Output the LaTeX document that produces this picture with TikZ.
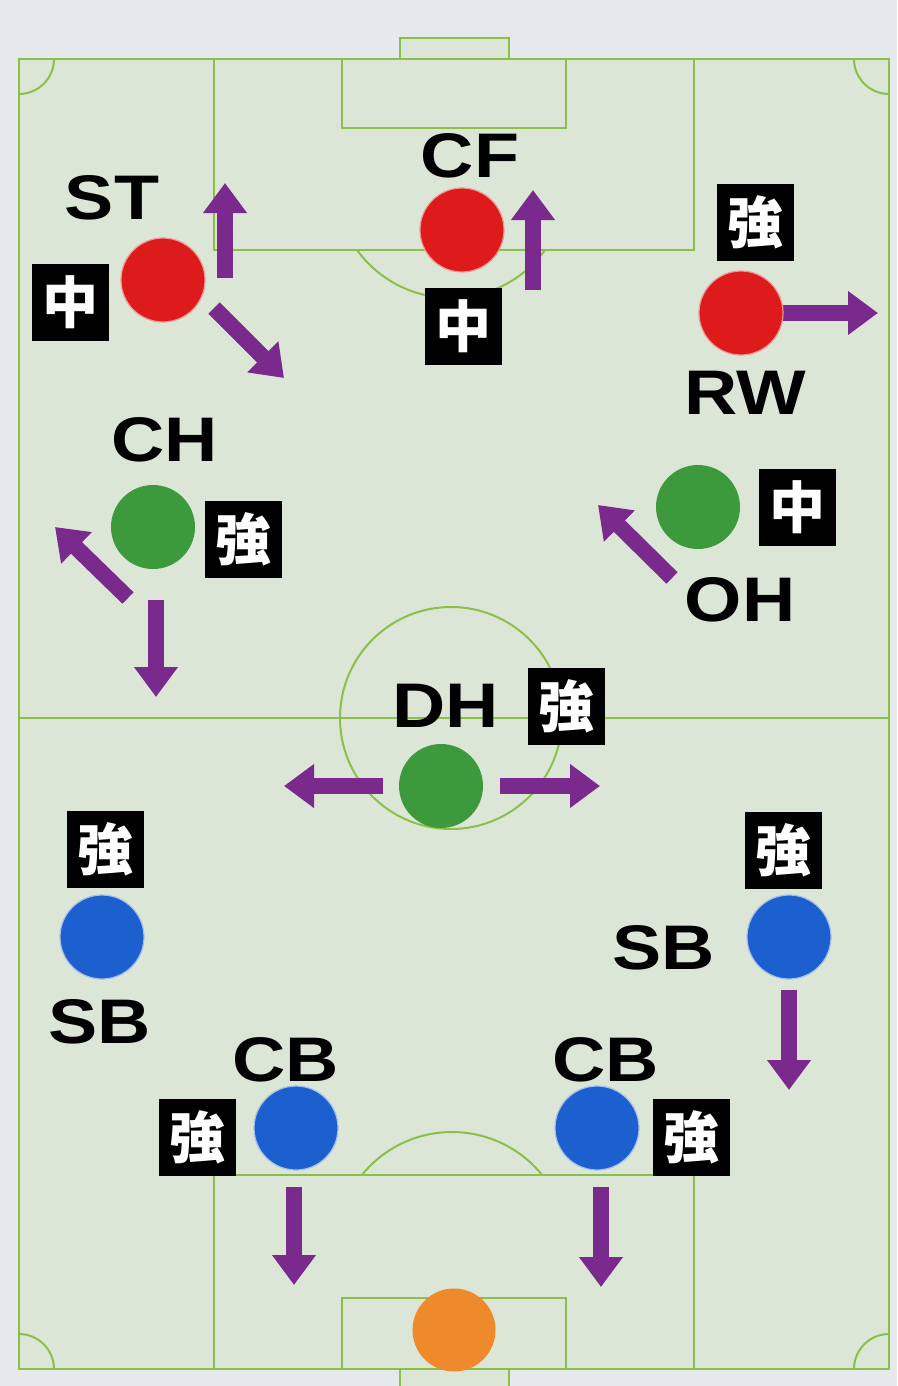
\documentclass[tikz,border=0pt]{standalone}
\usepackage{fontspec}
\usepackage{graphicx}
\setmainfont{Liberation Sans}
\newfontfamily\lblfont{Liberation Sans}
\newfontfamily\cjk{Noto Sans CJK JP}
\usetikzlibrary{arrows.meta}
\definecolor{bg}{HTML}{E4EAEC}
\definecolor{turf}{HTML}{DCE6D6}
\definecolor{pline}{HTML}{8CBF48}
\definecolor{pred}{HTML}{DD1B1B}
\definecolor{pgreen}{HTML}{3C9A3C}
\definecolor{pblue}{HTML}{1C5FCF}
\definecolor{porange}{HTML}{EE8A2C}
\definecolor{ppurple}{HTML}{7A2A8C}
\newcommand\widen[1]{\scalebox{1.17}[1]{#1}}
\begin{document}
\begin{tikzpicture}[x=1pt,y=-1pt,
  fl/.style={draw=pline, line width=2pt},
  player/.style={circle, minimum size=84pt, inner sep=0pt, line width=1.2pt},
  lbl/.style={font=\lblfont\bfseries\fontsize{63}{63}\selectfont, inner sep=0pt, text=black},
  tag/.style={fill=black, text=white, font=\cjk\bfseries\fontsize{56}{56}\selectfont, minimum size=77pt, inner sep=0pt},
  mv/.style={draw=ppurple, line width=16pt, -{Triangle[width=42pt,length=30pt]}}]
\useasboundingbox (0,0) rectangle (897,1386);
\fill[bg] (0,0) rectangle (897,1386);
\fill[turf] (19,59) rectangle (889,1369);
\fill[turf] (400,38) rectangle (509,59);
\fill[turf] (400,1369) rectangle (509,1386);
% field markings
\draw[fl, line width=2.5pt] (19,59) rectangle (889,1369);
\draw[fl] (19,718) -- (889,718);
\draw[fl] (214,59) rectangle (694,250);
\draw[fl] (342,59) rectangle (566,128);
\draw[fl] (400,59) -- (400,38) -- (509,38) -- (509,59);
\draw[fl] (214,1369) rectangle (694,1175);
\draw[fl] (342,1369) rectangle (566,1298);
\draw[fl] (400,1386) -- (400,1369) -- (509,1369) -- (509,1386);
\draw[fl] (451,718) circle[radius=111];
\begin{scope}
  \clip (19,250) rectangle (889,718);
  \draw[fl] (451,182) circle[radius=116];
\end{scope}
\begin{scope}
  \clip (19,718) rectangle (889,1175);
  \draw[fl] (452,1248) circle[radius=116];
\end{scope}
\begin{scope}
  \clip (19,59) rectangle (889,1369);
  \draw[fl] (19,59) circle[radius=35];
  \draw[fl] (889,59) circle[radius=35];
  \draw[fl] (19,1369) circle[radius=35];
  \draw[fl] (889,1369) circle[radius=35];
\end{scope}
% arrow end points
\coordinate (a1s) at (225,278); \coordinate (a1e) at (225,183);
\coordinate (a2s) at (214,308); \coordinate (a2e) at (284,378);
\coordinate (a3s) at (533,290); \coordinate (a3e) at (533,190);
\coordinate (a4s) at (783,313); \coordinate (a4e) at (878,313);
\coordinate (a5s) at (128,598); \coordinate (a5e) at (55,527);
\coordinate (a6s) at (156,600); \coordinate (a6e) at (156,697);
\coordinate (a7s) at (672,578); \coordinate (a7e) at (598,505);
\coordinate (a8s) at (383,786); \coordinate (a8e) at (284,786);
\coordinate (a9s) at (500,786); \coordinate (a9e) at (600,786);
\coordinate (a10s) at (789,990); \coordinate (a10e) at (789,1090);
\coordinate (a11s) at (294,1187); \coordinate (a11e) at (294,1285);
\coordinate (a12s) at (601,1187); \coordinate (a12e) at (601,1287);
\foreach \i in {1,...,12} \draw[mv] (a\i s) -- (a\i e);
% players
\node[player, fill=pred, draw=pred!45!white] (st) at (163,280) {};
\node[player, fill=pred, draw=pred!45!white] (cf) at (462,230) {};
\node[player, fill=pred, draw=pred!45!white] (rw) at (741,313) {};
\node[player, fill=pgreen] (ch) at (153,527) {};
\node[player, fill=pgreen] (oh) at (698,507) {};
\node[player, fill=pgreen] (dh) at (441,786) {};
\node[player, fill=pblue, draw=pblue!40!white] (sbl) at (102,937) {};
\node[player, fill=pblue, draw=pblue!40!white] (sbr) at (789,937) {};
\node[player, fill=pblue, draw=pblue!40!white] (cbl) at (296,1128) {};
\node[player, fill=pblue, draw=pblue!40!white] (cbr) at (597,1128) {};
\node[player, fill=porange, minimum size=83pt] (gk) at (454,1330) {};
% labels
\node[lbl] (stL) at (112,198) {\widen{ST}};
\node[lbl] (cfL) at (470,156) {\widen{CF}};
\node[lbl] (rwL) at (745,393) {\widen{RW}};
\node[lbl] (chL) at (165,440) {\widen{CH}};
\node[lbl] (ohL) at (740,600) {\widen{OH}};
\node[lbl] (dhL) at (446,706) {\widen{DH}};
\node[lbl] (sblL) at (100,1022) {\widen{SB}};
\node[lbl] (sbrL) at (664,948) {\widen{SB}};
\node[lbl] (cblL) at (286,1060) {\widen{CB}};
\node[lbl] (cbrL) at (606,1060) {\widen{CB}};
% tags
\node[tag] (stT) at (70,302) {中};
\node[tag] (cfT) at (463,326) {中};
\node[tag] (rwT) at (755,222) {強};
\node[tag] (chT) at (243,539) {強};
\node[tag] (ohT) at (797,507) {中};
\node[tag] (dhT) at (566,706) {強};
\node[tag] (sblT) at (105,849) {強};
\node[tag] (sbrT) at (783,850) {強};
\node[tag] (cblT) at (197,1137) {強};
\node[tag] (cbrT) at (691,1137) {強};
\end{tikzpicture}
\end{document}
